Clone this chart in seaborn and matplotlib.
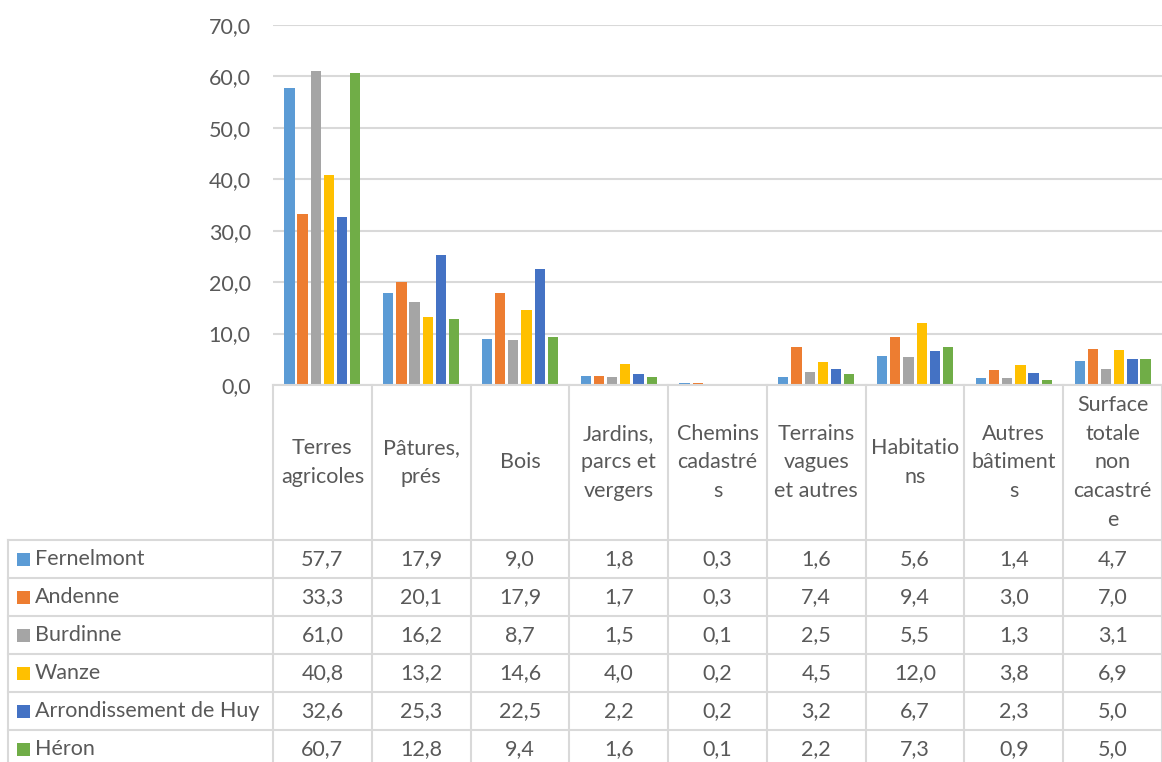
import pandas as pd
import matplotlib.pyplot as plt
import seaborn as sns

# Categories (as wrapped in the chart's data table) and series values
categories = ["Terres\nagricoles", "Pâtures,\nprés", "Bois", "Jardins,\nparcs et\nvergers",
              "Chemins\ncadastré\ns", "Terrains\nvagues\net autres", "Habitatio\nns",
              "Autres\nbâtiment\ns", "Surface\ntotale\nnon\ncacastré\ne"]
series = ["Fernelmont", "Andenne", "Burdinne", "Wanze", "Arrondissement de Huy", "Héron"]

fernelmont = [57.7, 17.9, 9.0, 1.8, 0.3, 1.6, 5.6, 1.4, 4.7]
andenne = [33.3, 20.1, 17.9, 1.7, 0.3, 7.4, 9.4, 3.0, 7.0]
burdinne = [61.0, 16.2, 8.7, 1.5, 0.1, 2.5, 5.5, 1.3, 3.1]
wanze = [40.8, 13.2, 14.6, 4.0, 0.2, 4.5, 12.0, 3.8, 6.9]
huy = [32.6, 25.3, 22.5, 2.2, 0.2, 3.2, 6.7, 2.3, 5.0]
heron = [60.7, 12.8, 9.4, 1.6, 0.1, 2.2, 7.3, 0.9, 5.0]

y_ticks = [0, 10, 20, 30, 40, 50, 60, 70]
colors = ["#5B9BD5", "#ED7D31", "#A5A5A5", "#FFC000", "#4472C4", "#70AD47"]

values = [fernelmont, andenne, burdinne, wanze, huy, heron]
rows = []
for s, vals in zip(series, values):
    for c, v in zip(categories, vals):
        rows.append({"cat": c, "serie": s, "val": v})
df = pd.DataFrame(rows)

txt = "#595959"
grid = "#D9D9D9"
fs = 15.5
plt.rcParams["font.family"] = ["Lato", "DejaVu Sans"]

W, H = 1162, 762
fig = plt.figure(figsize=(W / 100, H / 100), dpi=100)
x0, x1, ytop, ybot = 273, 1162, 25, 385
ax = fig.add_axes([x0 / W, 1 - ybot / H, (x1 - x0) / W, (ybot - ytop) / H])

sns.barplot(data=df, x="cat", y="val", hue="serie", order=categories, hue_order=series,
            palette=colors, width=0.8, gap=0.22, ax=ax, legend=False, saturation=1)
ax.set_ylim(0, 70)
ax.set_xlim(-0.5, len(categories) - 0.5)
ax.set_yticks(y_ticks)
ax.set_yticklabels([f"{t:.1f}".replace(".", ",") for t in y_ticks], color=txt, fontsize=fs)
ax.tick_params(axis="y", length=0, pad=16)
ax.set_xticks([])
ax.set_xlabel("")
ax.set_ylabel("")
ax.grid(axis="y", color=grid, linewidth=1.5)
ax.set_axisbelow(True)
for sp in ax.spines.values():
    sp.set_visible(False)

# data table drawn underneath, in pixel coordinates
tab = fig.add_axes([0, 0, 1, 1])
tab.set_xlim(0, W)
tab.set_ylim(H, 0)
tab.axis("off")
tab.patch.set_alpha(0)

colw = (x1 - x0) / len(categories)
hdr_bot = 540
rowh = 38
lw = 1.5
tab.plot([x0, W], [ybot, ybot], color=grid, lw=lw)
for i in range(len(categories) + 1):
    xx = x0 + i * colw
    tab.plot([xx, xx], [ybot, H], color=grid, lw=lw)
tab.plot([8, 8], [hdr_bot, H], color=grid, lw=lw)
for r in range(len(series) + 1):
    yy = hdr_bot + r * rowh
    tab.plot([8, W], [yy, yy], color=grid, lw=lw)

for i, c in enumerate(categories):
    tab.text(x0 + (i + 0.5) * colw, (ybot + hdr_bot) / 2, c, ha="center", va="center",
             multialignment="center", color=txt, fontsize=fs, linespacing=1.55)

for r, (s, vals) in enumerate(zip(series, values)):
    yc = hdr_bot + (r + 0.5) * rowh
    tab.add_patch(plt.Rectangle((17, yc - 6), 13, 13, color=colors[r], lw=0))
    tab.text(35, yc, s, ha="left", va="center", color=txt, fontsize=fs)
    for i, v in enumerate(vals):
        tab.text(x0 + (i + 0.5) * colw, yc, f"{v:.1f}".replace(".", ","), ha="center",
                 va="center", color=txt, fontsize=fs)

fig.savefig("out.png", dpi=100)
